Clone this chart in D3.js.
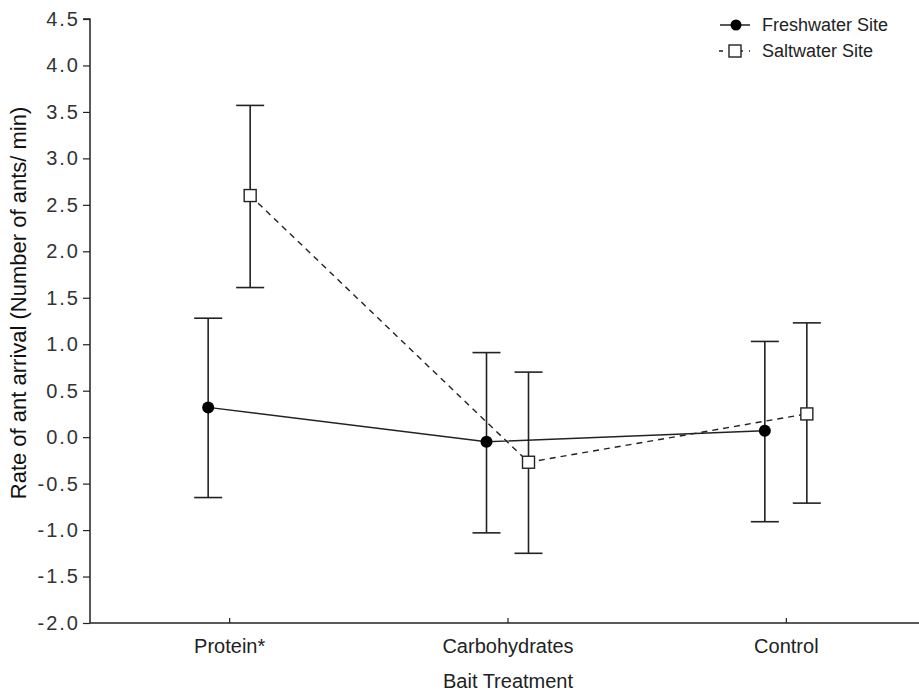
<!DOCTYPE html>
<html>
<head>
<meta charset="utf-8">
<script src="https://cdn.jsdelivr.net/npm/d3@7"></script>
<style>
  body { margin: 0; background: #fff; }
  text { font-family: "Liberation Sans", Arial, sans-serif; }
</style>
</head>
<body>
<div class="content"></div>
<script>
const categories = ['Protein*', 'Carbohydrates', 'Control']
const seriesNames = ['Freshwater Site', 'Saltwater Site']
const freshMean = [0.32, -0.05, 0.07]
const freshHigh = [1.28, 0.91, 1.03]
const freshLow = [-0.65, -1.03, -0.91]
const saltMean = [2.60, -0.27, 0.25]
const saltHigh = [3.57, 0.70, 1.23]
const saltLow = [1.61, -1.25, -0.71]
const yTicks = [-2.0, -1.5, -1.0, -0.5, 0.0, 0.5, 1.0, 1.5, 2.0, 2.5, 3.0, 3.5, 4.0, 4.5]

const width = 919
const height = 691
const plotLeft = 90
const plotTop = 19
const plotBottom = 623
const plotRight = 925
const ink = '#222'

const svg = d3.select('div.content')
    .append('svg')
    .attr('width', width)
    .attr('height', height)

const x = d3.scalePoint()
    .domain(categories)
    .range([plotLeft, plotRight])
    .padding(0.5)

const y = d3.scaleLinear()
    .domain([-2, 4.5])
    .range([plotBottom, plotTop])

// axes
const yAxis = svg.append('g')
    .attr('transform', `translate(${plotLeft},0)`)
    .call(d3.axisLeft(y).tickValues(yTicks).tickSize(7).tickPadding(3))
yAxis.select('.domain').attr('d', `M-7,${plotTop}H0V${plotBottom}`).attr('stroke', ink).attr('stroke-width', 1.5)
yAxis.selectAll('.tick line').attr('stroke', ink).attr('stroke-width', 1.2)
yAxis.selectAll('.tick text')
    .attr('fill', '#333')
    .style('font-size', '20px')
    .style('letter-spacing', '2px')
    .style('font-family', '"Liberation Sans", Arial, sans-serif')
    .text(d => d.toFixed(1))

const xAxis = svg.append('g')
    .attr('transform', `translate(0,${plotBottom})`)
    .call(d3.axisBottom(x).tickSize(-5).tickPadding(12))
xAxis.select('.domain').attr('d', `M${plotLeft},0H${width}`).attr('stroke', ink).attr('stroke-width', 1.5)
xAxis.selectAll('.tick line').attr('stroke', ink).attr('stroke-width', 1.2)
xAxis.selectAll('.tick text')
    .attr('fill', '#222')
    .attr('dy', '0.71em')
    .attr('y', 16)
    .style('font-size', '20px')
    .style('font-family', '"Liberation Sans", Arial, sans-serif')

// axis titles
svg.append('text')
    .attr('x', 508)
    .attr('y', 688)
    .attr('text-anchor', 'middle')
    .attr('fill', '#222')
    .style('font-size', '20px')
    .text('Bait Treatment')

svg.append('text')
    .attr('transform', 'translate(26,303) rotate(-90)')
    .attr('text-anchor', 'middle')
    .attr('fill', '#111')
    .style('font-size', '22px')
    .text('Rate of ant arrival (Number of ants/ min)')

// series
const offset = 21
const series = [
  { name: seriesNames[0], mean: freshMean, high: freshHigh, low: freshLow, dx: -offset, dash: null },
  { name: seriesNames[1], mean: saltMean, high: saltHigh, low: saltLow, dx: offset, dash: '6,5' }
]

series.forEach(s => {
  const pts = categories.map((c, i) => ({ cx: x(c) + s.dx, m: s.mean[i], hi: s.high[i], lo: s.low[i] }))
  const g = svg.append('g')

  g.append('path')
      .datum(pts)
      .attr('fill', 'none')
      .attr('stroke', ink)
      .attr('stroke-width', 1.4)
      .attr('stroke-dasharray', s.dash)
      .attr('d', d3.line().x(d => d.cx).y(d => y(d.m)))

  g.selectAll('line.err')
      .data(pts)
      .join('line')
      .attr('class', 'err')
      .attr('x1', d => d.cx).attr('x2', d => d.cx)
      .attr('y1', d => y(d.hi)).attr('y2', d => y(d.lo))
      .attr('stroke', ink).attr('stroke-width', 1.6)

  ;['hi', 'lo'].forEach(k => {
    g.selectAll('line.cap' + k)
        .data(pts)
        .join('line')
        .attr('class', 'cap' + k)
        .attr('x1', d => d.cx - 14).attr('x2', d => d.cx + 14)
        .attr('y1', d => y(d[k])).attr('y2', d => y(d[k]))
        .attr('stroke', ink).attr('stroke-width', 1.6)
  })
})

// markers on top
svg.append('g').selectAll('circle')
    .data(categories)
    .join('circle')
    .attr('cx', c => x(c) - offset)
    .attr('cy', (c, i) => y(freshMean[i]))
    .attr('r', 6)
    .attr('fill', '#000')

svg.append('g').selectAll('rect')
    .data(categories)
    .join('rect')
    .attr('x', c => x(c) + offset - 6)
    .attr('y', (c, i) => y(saltMean[i]) - 6)
    .attr('width', 12)
    .attr('height', 12)
    .attr('fill', '#fff')
    .attr('stroke', ink)
    .attr('stroke-width', 1.4)

// legend
const legend = svg.append('g').attr('transform', 'translate(737,0)')
legend.append('line')
    .attr('x1', -17).attr('x2', 13).attr('y1', 25).attr('y2', 25)
    .attr('stroke', ink).attr('stroke-width', 1.5)
legend.append('circle')
    .attr('cx', -1).attr('cy', 25).attr('r', 5.5).attr('fill', '#000')
legend.append('line')
    .attr('x1', -18).attr('x2', 13).attr('y1', 51).attr('y2', 51)
    .attr('stroke', ink).attr('stroke-width', 1.5)
    .attr('stroke-dasharray', '4,6')
legend.append('rect')
    .attr('x', -8).attr('y', 45).attr('width', 12).attr('height', 12)
    .attr('fill', '#fff').attr('stroke', ink).attr('stroke-width', 1.4)
legend.selectAll('text.lab')
    .data(seriesNames)
    .join('text')
    .attr('class', 'lab')
    .attr('x', 25)
    .attr('y', (d, i) => 25 + i * 26)
    .attr('dy', '0.35em')
    .attr('fill', '#222')
    .style('font-size', '18px')
    .text(d => d)
</script>
</body>
</html>
